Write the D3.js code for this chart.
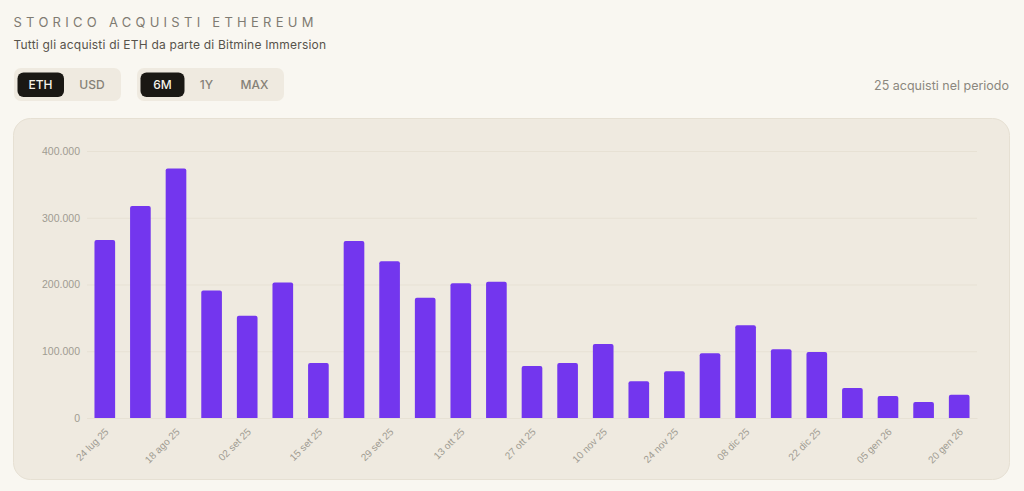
<!DOCTYPE html>
<html>
<head>
<meta charset="utf-8">
<script src="https://cdn.jsdelivr.net/npm/d3@7"></script>
<style>
  html, body { margin: 0; padding: 0; background: #f9f7f1; overflow: hidden; }
  svg { display: block; }
  text { font-family: Inter, "Noto Sans", sans-serif; }
</style>
</head>
<body>
<div id="chart"></div>
<script>
// dates are read off the labels, the ones in between (no label) are estimated
var dates = ["24 lug 25","11 ago 25","18 ago 25","25 ago 25","02 set 25","08 set 25","15 set 25","22 set 25",
  "29 set 25","06 ott 25","13 ott 25","20 ott 25","27 ott 25","03 nov 25","10 nov 25","17 nov 25",
  "24 nov 25","01 dic 25","08 dic 25","15 dic 25","22 dic 25","29 dic 25","05 gen 26","12 gen 26","20 gen 26"];
var acquisti = [266700,317600,373800,191000,153000,203000,82400,265000,235000,180000,202000,204000,
  78000,82400,111000,55000,70000,97000,139000,103000,99000,45000,33000,24000,35000];
var yTicks = [0,100000,200000,300000,400000];
var unitButtons = ["ETH","USD"];
var rangeButtons = ["6M","1Y","MAX"];

var width = 1024, height = 491;
var x0 = 87, x1 = 977, yBase = 418, yTop = 151;

var svg = d3.select("#chart").append("svg")
  .attr("width", width)
  .attr("height", height);

// header
svg.append("text")
  .attr("x", 13.5).attr("y", 26.5)
  .attr("fill", "#7f7b72")
  .style("font-size", "13px")
  .style("letter-spacing", "4.27px")
  .text("STORICO ACQUISTI ETHEREUM");

svg.append("text")
  .attr("x", 13.5).attr("y", 48.5)
  .attr("fill", "#57534b")
  .style("font-size", "12px")
  .style("letter-spacing", "0.2px")
  .text("Tutti gli acquisti di ETH da parte di Bitmine Immersion");

svg.append("text")
  .attr("x", 1009).attr("y", 89.5)
  .attr("text-anchor", "end")
  .attr("fill", "#8b877e")
  .style("font-size", "12.5px")
  .text("25 acquisti nel periodo");

// toggle groups
function toggle(labels, left, right, centers, activeRight) {
  var g = svg.append("g");
  g.append("rect")
    .attr("x", left).attr("y", 68)
    .attr("width", right - left).attr("height", 33)
    .attr("rx", 7)
    .attr("fill", "#efeae0");
  g.append("rect")
    .attr("x", left + 3.5).attr("y", 72.5)
    .attr("width", activeRight - left - 3.5).attr("height", 24.5)
    .attr("rx", 6)
    .attr("fill", "#1a1814");
  g.selectAll("text")
    .data(labels)
    .enter().append("text")
    .attr("x", function(d, i) { return centers[i]; })
    .attr("y", 89)
    .attr("text-anchor", "middle")
    .attr("fill", function(d, i) { return i == 0 ? "#f6f3ea" : "#858177"; })
    .style("font-size", "12px")
    .style("font-weight", 500)
    .text(function(d) { return d; });
}
toggle(unitButtons, 14, 121, [40.5, 92], 64);
toggle(rangeButtons, 137, 284, [162.5, 206.5, 254.5], 184.5);

// panel
svg.append("rect")
  .attr("x", 13.5).attr("y", 118.5)
  .attr("width", 996).attr("height", 361)
  .attr("rx", 17)
  .attr("fill", "#efeae0")
  .attr("stroke", "#e6e0d3");

var x = d3.scaleBand()
  .domain(dates)
  .range([x0, x1])
  .paddingInner(0.42)
  .paddingOuter(0.21);

var y = d3.scaleLinear()
  .domain([0, 400000])
  .range([yBase, yTop]);

var fmt = function(d) { return d3.format(",")(d).replace(/,/g, "."); };

// y axis + grid
var yAxis = svg.append("g")
  .attr("transform", "translate(" + x0 + ",0)")
  .call(d3.axisLeft(y).tickValues(yTicks).tickSize(0).tickPadding(7).tickFormat(fmt));
yAxis.select(".domain").remove();
yAxis.selectAll("text")
  .attr("fill", "#a09c92")
  .style("font-family", "'Liberation Sans', sans-serif")
  .style("font-size", "10.5px");
yAxis.selectAll(".tick line")
  .attr("x2", x1 - x0)
  .attr("stroke", "#e7e1d4");

// bars, only the top corners rounded
svg.append("g").selectAll("path")
  .data(acquisti)
  .enter().append("path")
  .attr("fill", "#7336ee")
  .attr("d", function(d, i) {
    var bx = x(dates[i]), w = x.bandwidth(), top = y(d), r = 2;
    return "M" + bx + "," + yBase + "V" + (top + r) + "Q" + bx + "," + top + " " + (bx + r) + "," + top +
      "H" + (bx + w - r) + "Q" + (bx + w) + "," + top + " " + (bx + w) + "," + (top + r) + "V" + yBase + "Z";
  });

// x axis, every other date
var xAxis = svg.append("g")
  .attr("transform", "translate(0," + yBase + ")")
  .call(d3.axisBottom(x)
    .tickValues(dates.filter(function(d, i) { return i % 2 == 0; }))
    .tickSize(0).tickPadding(0));
xAxis.select(".domain").attr("stroke", "#e7e1d4");
xAxis.selectAll("text")
  .attr("fill", "#a09c92")
  .attr("text-anchor", "end")
  .attr("y", 0)
  .attr("dy", "0.35em")
  .attr("transform", "translate(2,12) rotate(-45)")
  .style("font-family", "'Liberation Sans', sans-serif")
  .style("font-size", "10px");
</script>
</body>
</html>
